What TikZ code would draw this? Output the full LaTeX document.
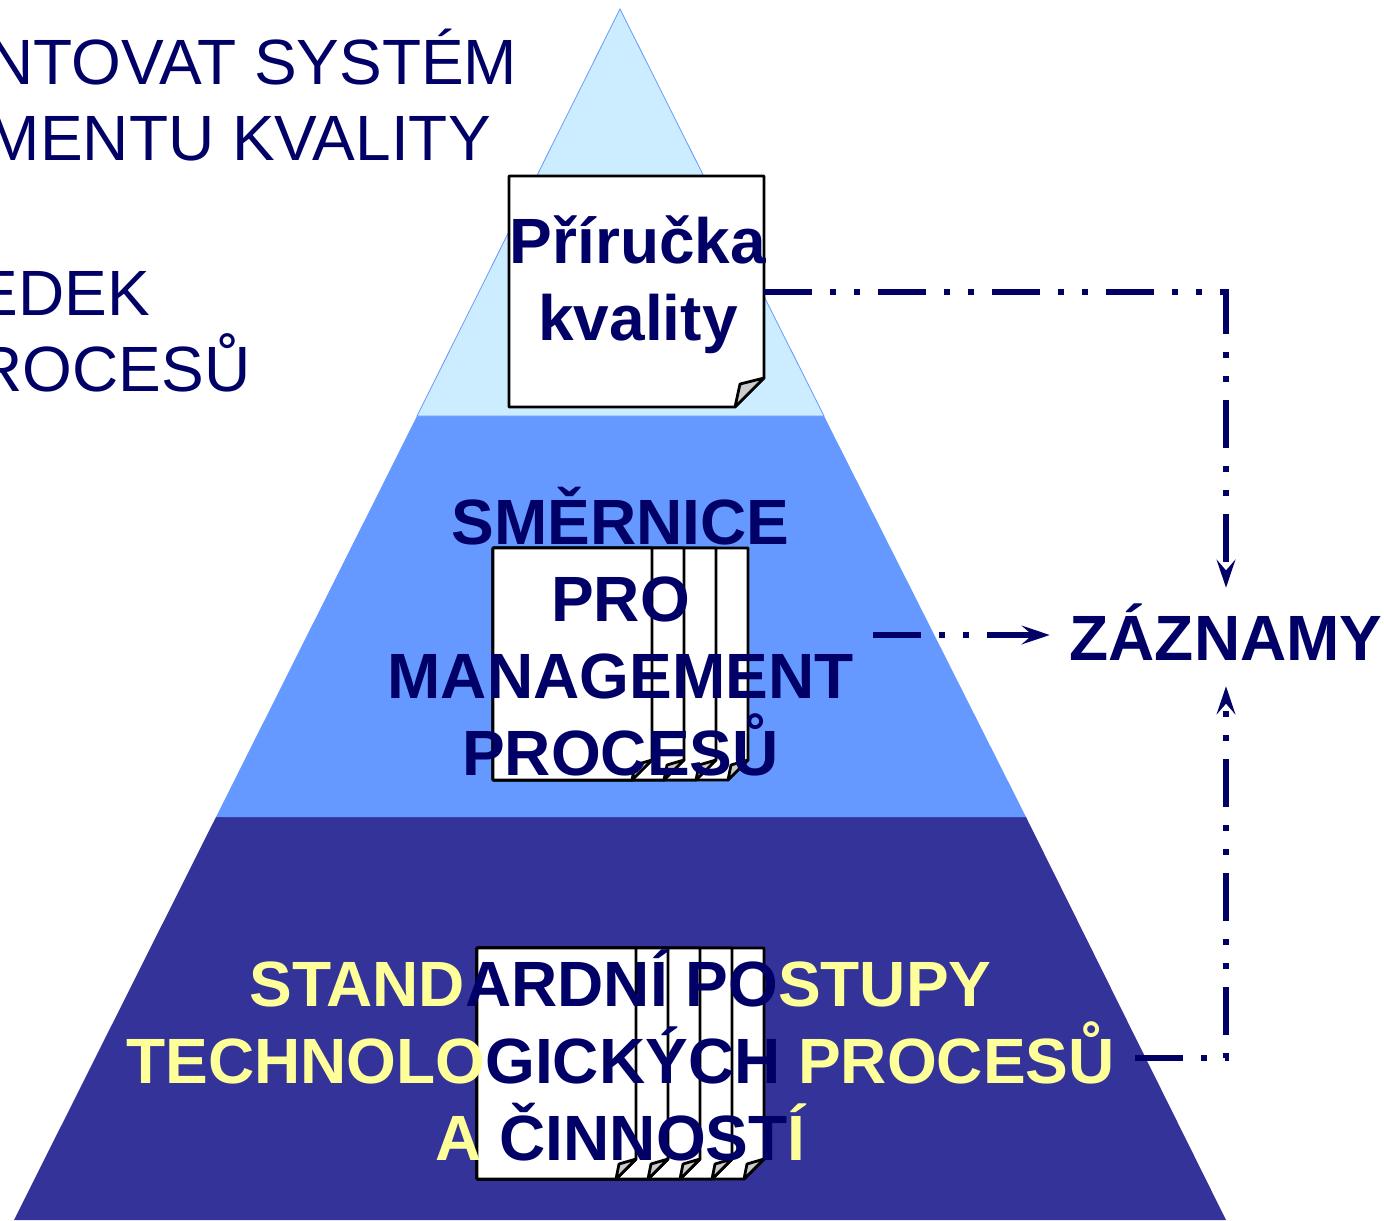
\documentclass[tikz,border=0pt]{standalone}
\usepackage{fontspec}
\setmainfont{Liberation Sans}
\usetikzlibrary{arrows.meta}
\definecolor{ink}{HTML}{000066}
\definecolor{pale}{HTML}{CCECFF}
\definecolor{midblue}{HTML}{6699FF}
\definecolor{deep}{HTML}{333399}
\definecolor{lemon}{HTML}{FFFF99}
\definecolor{foldgrey}{HTML}{CCCCCC}
\tikzset{
  x=0.75pt,y=-0.75pt,
  sheet/.style={draw=black,line width=2.1pt,fill=white,line join=round},
  fold/.style={draw=black,line width=2.1pt,fill=foldgrey,line join=round},
  big/.style={font=\fontsize{48}{57.75}\selectfont\bfseries,text=ink,align=center,inner sep=0pt},
  plain/.style={font=\fontsize{48}{57.75}\selectfont,text=ink,anchor=base east,inner sep=0pt},
  flow/.style={draw=ink,line width=4.5pt,dash pattern=on 36pt off 13.5pt on 4.5pt off 13.5pt on 4.5pt off 13.5pt,
    -{Stealth[length=21pt,width=14pt,inset=8pt]}},
}
\newcommand{\docsheet}[7]{% left,top,right,bottom,foldsize,fold inner dx,fold inner dy
  \path[sheet] (#1,#2) -- (#3,#2) -- (#3,{#4-#5}) -- ({#3-#5},#4) -- (#1,#4) -- cycle;
  \path[fold] ({#3-#5},#4) -- ({#3-#5+#6},{#4-#7}) -- (#3,{#4-#5}) -- cycle;
}
\begin{document}
\begin{tikzpicture}
\useasboundingbox (0,0) rectangle (1384,1220);
\clip (0,0) rectangle (1384,1220);
% pyramid
\fill[deep] (216,817) -- (1026,817) -- (1226,1220) -- (14,1220) -- cycle;
\fill[midblue] (417,416) -- (824,416) -- (1026,817) -- (216,817) -- cycle;
\path[fill=pale,draw=midblue,line width=0.6pt] (620,9) -- (824,416) -- (417,416) -- cycle;
% left text
\node[plain] (t1) at (517.5,85) {NTOVAT SYSTÉM};
\node[plain] (t2) at (491,161) {MENTU KVALITY};
\node[plain] (t3) at (150.5,315) {EDEK};
\node[plain] (t4) at (250.5,391) {ROCESŮ};
% manual
\docsheet{509}{176}{764}{407}{29}{5}{23}
\node[minimum width=191.25pt,minimum height=173pt,inner sep=0pt] (doc1) at (636.5,291.5) {};
\node[big] (lab1) at (638,285) {Příručka\\kvality};
% directives
\foreach \r in {748,716,684,652}{\docsheet{493}{548}{\r}{780}{20}{3}{15}}
\node[big] (lab2) at (620.5,631.5) {SMĚRNICE\\PRO\\MANAGEMENT\\PROCESŮ};
% standards
\foreach \r in {764,732,700,668,636}{\docsheet{477}{948}{\r}{1179}{20}{3}{15}}
\node[big] (lab3) at (620.5,1055) {\textcolor{lemon}{STAND}ARDNÍ PO\textcolor{lemon}{STUPY}\\
  \textcolor{lemon}{TECHNOLO}GICKÝCH \textcolor{lemon}{PROCESŮ}\\
  \textcolor{lemon}{A }ČINNOST\textcolor{lemon}{Í}};
% records
\node[big,minimum width=264pt,minimum height=73.5pt,text height=34.5pt,text depth=0pt] (rec) at (1226,637) {ZÁZNAMY};
\coordinate (from2) at (873,635);
\coordinate (from3) at (1135,1058);
\coordinate (corner1) at (rec.north |- doc1.east);
\coordinate (corner3) at (rec.south |- from3);
\draw[flow] (doc1.east) -- (corner1) -- (rec.north);
\draw[flow] (from2) -- (from2 -| rec.west);
\draw[flow] (from3) -- (corner3) -- (rec.south);
\end{tikzpicture}
\end{document}
